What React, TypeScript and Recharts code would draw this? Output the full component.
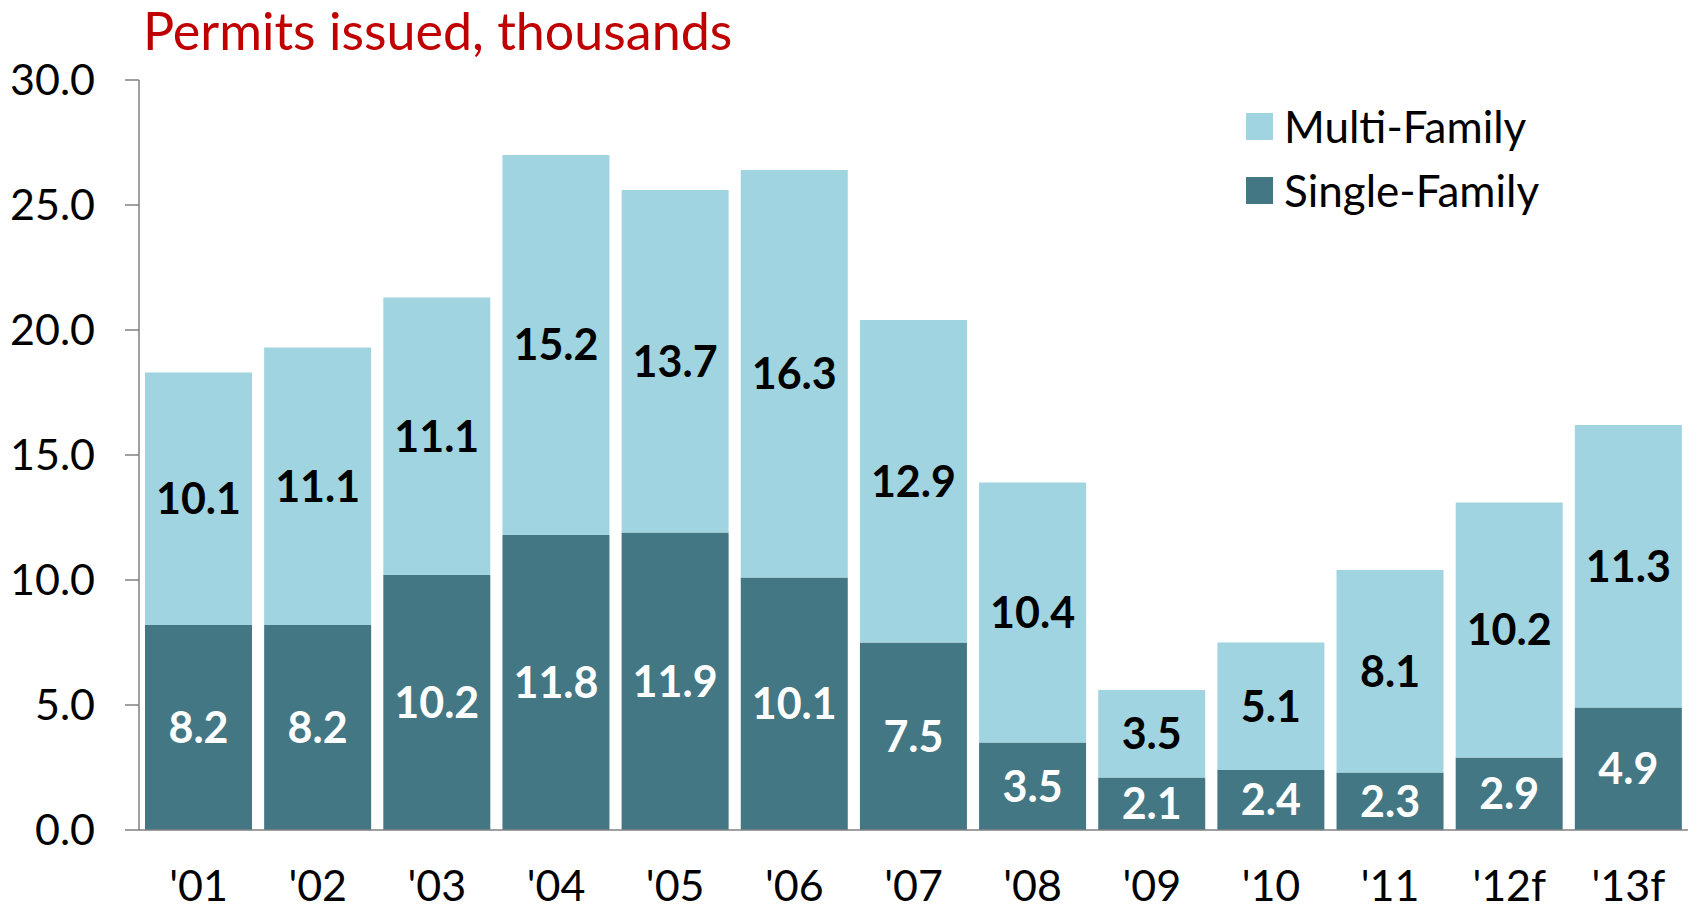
import React from 'react';
import { BarChart, Bar, XAxis, YAxis, LabelList } from 'recharts';

const years = ["'01", "'02", "'03", "'04", "'05", "'06", "'07", "'08", "'09", "'10", "'11", "'12f", "'13f"];
const singleFamily = [8.2, 8.2, 10.2, 11.8, 11.9, 10.1, 7.5, 3.5, 2.1, 2.4, 2.3, 2.9, 4.9];
const multiFamily = [10.1, 11.1, 11.1, 15.2, 13.7, 16.3, 12.9, 10.4, 3.5, 5.1, 8.1, 10.2, 11.3];
const yTicks = [0, 5, 10, 15, 20, 25, 30];

const DARK = '#447784';
const LIGHT = '#A0D4E0';
const FONT = 'Lato, "Open Sans", sans-serif';

const data = years.map((year, i) => ({
  year,
  single: singleFamily[i],
  multi: multiFamily[i],
}));

const legendItems = [
  { label: 'Multi-Family', color: LIGHT },
  { label: 'Single-Family', color: DARK },
];

const App: React.FC = () => {
  return (
    <div style={{ position: 'absolute', left: 0, top: 0, width: 1692, height: 909, background: '#fff' }}>
      <BarChart
        width={1692}
        height={909}
        data={data}
        margin={{ top: 80, right: 4, bottom: 0, left: 0 }}
        barCategoryGap={6}
      >
        <XAxis
          dataKey="year"
          height={79}
          axisLine={{ stroke: '#808080', strokeWidth: 1.5 }}
          tickLine={false}
          tickSize={0}
          tickMargin={40}
          tick={{ fill: '#000', fontSize: 43, fontFamily: FONT }}
          interval={0}
        />
        <YAxis
          width={139}
          domain={[0, 30]}
          ticks={yTicks}
          tickFormatter={(v: number) => v.toFixed(1)}
          axisLine={{ stroke: '#808080', strokeWidth: 1.5 }}
          tickLine={{ stroke: '#808080', strokeWidth: 1.5 }}
          tickSize={14}
          tickMargin={30}
          tick={{ fill: '#000', fontSize: 43, fontFamily: FONT }}
        />
        <Bar dataKey="single" stackId="a" fill={DARK} isAnimationActive={false}>
          <LabelList dataKey="single" position="center" fill="#fff" fontSize={43} fontWeight="bold" fontFamily={FONT} />
        </Bar>
        <Bar dataKey="multi" stackId="a" fill={LIGHT} isAnimationActive={false}>
          <LabelList dataKey="multi" position="center" fill="#000" fontSize={43} fontWeight="bold" fontFamily={FONT} />
        </Bar>
      </BarChart>
      {/* title sits above the plot area */}
      <div
        style={{
          position: 'absolute',
          left: 143,
          top: -1,
          fontFamily: FONT,
          fontSize: 52,
          lineHeight: '62px',
          color: '#C00000',
          whiteSpace: 'nowrap',
        }}
      >
        Permits issued, thousands
      </div>
      <div style={{ position: 'absolute', left: 1246, top: 94, fontFamily: FONT, fontSize: 44, color: '#000' }}>
        {legendItems.map(item => (
          <div key={item.label} style={{ display: 'flex', alignItems: 'center', height: 64 }}>
            <span style={{ width: 27, height: 27, background: item.color, marginRight: 11, display: 'inline-block' }} />
            <span>{item.label}</span>
          </div>
        ))}
      </div>
    </div>
  );
};

export default App;
